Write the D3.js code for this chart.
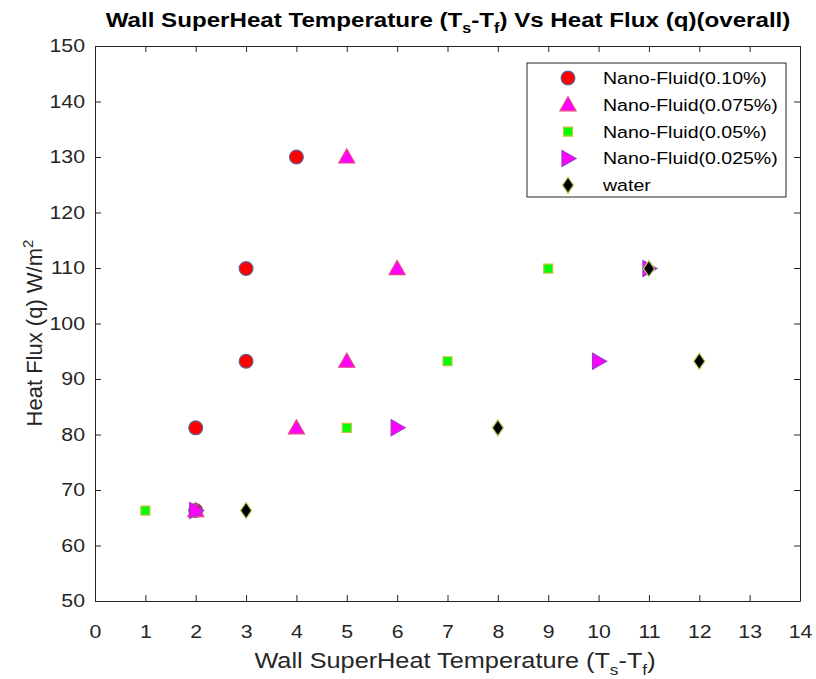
<!DOCTYPE html>
<html lang="en">
<head>
  <meta charset="UTF-8">
  <title>Wall SuperHeat vs Heat Flux</title>
  <script src="https://d3js.org/d3.v7.min.js"></script>
  <style>
    body { margin: 0; background: #fff; }
    text { font-family: "Liberation Sans", Arial, sans-serif; }
    .axis path, .axis line { stroke: #262626; }
    .axis text { fill: #262626; font-size: 18.5px; }
  </style>
</head>
<body>
  <svg id="chart" width="816" height="679"></svg>
  <script>
    const seriesNames = ['Nano-Fluid(0.10%)', 'Nano-Fluid(0.075%)', 'Nano-Fluid(0.05%)', 'Nano-Fluid(0.025%)', 'water'];
    const nano010 = [[2, 66.3], [2, 81.2], [3, 93.2], [3, 109.9], [4, 130]];
    const nano0075 = [[2, 66.3], [4, 81.2], [5, 93.2], [6, 109.9], [5, 130]];
    const nano005 = [[1, 66.3], [5, 81.2], [7, 93.2], [9, 109.9]];
    const nano0025 = [[2, 66.3], [6, 81.2], [10, 93.2], [11, 109.9]];
    const water = [[3, 66.3], [8, 81.2], [12, 93.2], [11, 109.9]];
    const xTicks = d3.range(0, 15, 1);
    const yTicks = d3.range(50, 151, 10);

    const svg = d3.select('#chart');
    const margins = { top: 46, right: 16, bottom: 78, left: 95 };
    const width = +svg.attr('width');
    const height = +svg.attr('height');
    const chartWidth = width - margins.left - margins.right;
    const chartHeight = height - margins.top - margins.bottom;
    // the original figure's text is slightly wide, stretch it a bit
    const stretch = 1.15;

    const xScale = d3.scaleLinear().domain([0, 14]).range([0, chartWidth]);
    const yScale = d3.scaleLinear().domain([50, 150]).range([chartHeight, 0]);

    const chartArea = svg.append('g').attr('transform', `translate(${margins.left},${margins.top})`);

    // axes with inward ticks on all four sides
    chartArea.append('g').attr('class', 'axis')
      .attr('transform', `translate(0,${chartHeight})`)
      .call(d3.axisBottom(xScale).tickValues(xTicks).tickSizeInner(-6).tickSizeOuter(0).tickPadding(0))
      .call(g => g.selectAll('text').attr('y', 0).attr('dy', '0.71em')
        .attr('transform', `translate(0,24) scale(${stretch},1)`));
    chartArea.append('g').attr('class', 'axis')
      .call(d3.axisTop(xScale).tickValues(xTicks).tickSizeInner(-6).tickSizeOuter(0).tickFormat(''));
    chartArea.append('g').attr('class', 'axis')
      .call(d3.axisLeft(yScale).tickValues(yTicks).tickSizeInner(-6).tickSizeOuter(0).tickPadding(0))
      .call(g => g.selectAll('text').attr('x', 0)
        .attr('transform', `translate(-10,0) scale(${stretch},1)`));
    chartArea.append('g').attr('class', 'axis')
      .attr('transform', `translate(${chartWidth},0)`)
      .call(d3.axisRight(yScale).tickValues(yTicks).tickSizeInner(-6).tickSizeOuter(0).tickFormat(''));

    // marker shapes
    const triUp = 'M0,-8L8,6L-8,6Z';
    const triRight = 'M-6,-8L8,0L-6,8Z';
    const styles = [
      { path: d3.symbol(d3.symbolCircle, 150)(), fill: '#ff0000', stroke: '#5a6596' },
      { path: triUp, fill: '#ff00ff', stroke: '#e8447a' },
      { path: 'M-4.5,-4.5H4.5V4.5H-4.5Z', fill: '#00ff00', stroke: '#c8c040' },
      { path: triRight, fill: '#ff00ff', stroke: '#9a3cc8' },
      { path: 'M0,-8L5.5,0L0,8L-5.5,0Z', fill: '#000000', stroke: '#b4c850' }
    ];
    const allSeries = [nano010, nano0075, nano005, nano0025, water];

    allSeries.forEach((data, i) => {
      chartArea.selectAll('path.s' + i).data(data)
        .join('path').attr('class', 's' + i)
        .attr('d', styles[i].path)
        .attr('transform', d => `translate(${xScale(d[0])},${yScale(d[1])})`)
        .attr('fill', styles[i].fill)
        .attr('stroke', styles[i].stroke)
        .attr('stroke-width', 1.2);
    });

    // legend
    const legend = svg.append('g').attr('transform', 'translate(527,63)');
    legend.append('rect')
      .attr('width', 259).attr('height', 134)
      .attr('fill', '#fff').attr('stroke', '#262626');
    seriesNames.forEach((name, i) => {
      const ly = 15 + i * 26.8;
      legend.append('path')
        .attr('d', styles[i].path)
        .attr('transform', `translate(41,${ly})`)
        .attr('fill', styles[i].fill)
        .attr('stroke', styles[i].stroke)
        .attr('stroke-width', 1.2);
      legend.append('text')
        .attr('transform', `translate(76,${ly + 6}) scale(${stretch},1)`)
        .attr('font-size', '17px').attr('fill', '#000')
        .text(name);
    });

    // title
    const title = svg.append('text')
      .attr('transform', `translate(448,27) scale(${stretch},1)`)
      .attr('text-anchor', 'middle')
      .attr('font-size', '21px').attr('font-weight', 'bold').attr('fill', '#000');
    title.append('tspan').text('Wall SuperHeat Temperature (T');
    title.append('tspan').attr('font-size', '14px').attr('dy', 6).text('s');
    title.append('tspan').attr('dy', -6).text('-T');
    title.append('tspan').attr('font-size', '14px').attr('dy', 6).text('f');
    title.append('tspan').attr('dy', -6).text(') Vs Heat Flux (q)(overall)');

    // x label
    const xLabel = svg.append('text')
      .attr('transform', `translate(455,668) scale(${stretch},1)`)
      .attr('text-anchor', 'middle')
      .attr('font-size', '22px').attr('fill', '#262626');
    xLabel.append('tspan').text('Wall SuperHeat Temperature (T');
    xLabel.append('tspan').attr('font-size', '15px').attr('dy', 7).text('s');
    xLabel.append('tspan').attr('dy', -7).text('-T');
    xLabel.append('tspan').attr('font-size', '15px').attr('dy', 7).text('f');
    xLabel.append('tspan').attr('dy', -7).text(')');

    // y label
    const yLabel = svg.append('text')
      .attr('transform', `translate(42,333) rotate(-90)`)
      .attr('text-anchor', 'middle')
      .attr('font-size', '22px').attr('fill', '#262626');
    yLabel.append('tspan').text('Heat Flux (q) W/m');
    yLabel.append('tspan').attr('font-size', '15px').attr('dy', -9).text('2');
  </script>
</body>
</html>
